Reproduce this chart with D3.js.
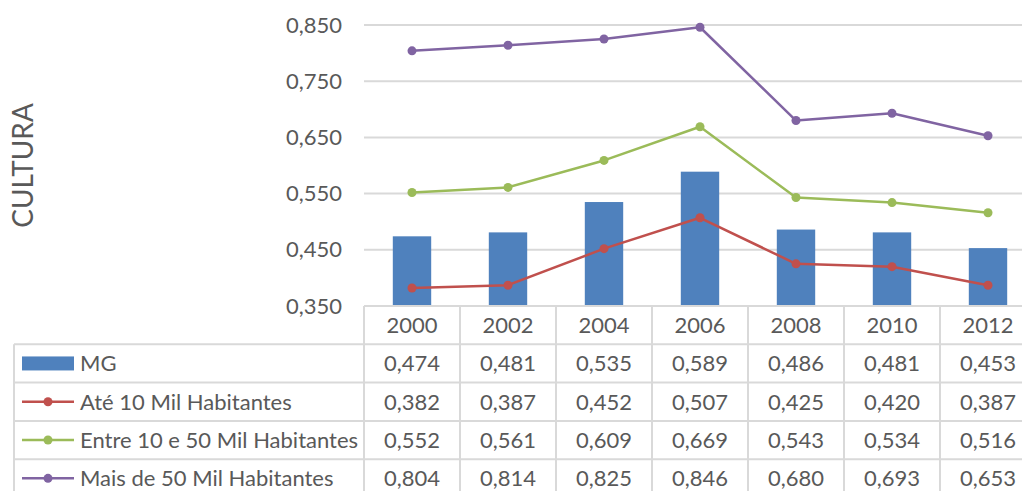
<!DOCTYPE html>
<html>
<head>
<meta charset="utf-8">
<script src="https://cdn.jsdelivr.net/npm/d3@7"></script>
<style>
  html, body { margin: 0; padding: 0; background: #fff; }
  svg { display: block; font-family: Lato, "Open Sans", sans-serif; }
</style>
</head>
<body>
<svg id="chart" width="1022" height="491"></svg>
<script>
// Índice de cultura por porte de município
const years = ["2000", "2002", "2004", "2006", "2008", "2010", "2012"];
const mg = [0.474, 0.481, 0.535, 0.589, 0.486, 0.481, 0.453];
const ate10 = [0.382, 0.387, 0.452, 0.507, 0.425, 0.420, 0.387];
const entre10e50 = [0.552, 0.561, 0.609, 0.669, 0.543, 0.534, 0.516];
const mais50 = [0.804, 0.814, 0.825, 0.846, 0.680, 0.693, 0.653];
const yTicks = [0.35, 0.45, 0.55, 0.65, 0.75, 0.85];
const axisTitle = "CULTURA";

const series = [
  { name: "MG", values: mg, color: "#4F81BD", type: "bar" },
  { name: "Até 10 Mil Habitantes", values: ate10, color: "#C0504D", type: "line" },
  { name: "Entre 10 e 50 Mil Habitantes", values: entre10e50, color: "#9BBB59", type: "line" },
  { name: "Mais de 50 Mil Habitantes", values: mais50, color: "#8064A2", type: "line" }
];

const textColor = "#595959";
const gridColor = "#D9D9D9";
const fmt = v => d3.format(".3f")(v).replace(".", ",");

const svg = d3.select("#chart");
const W = 1022;

const plotLeft = 364, plotTop = 25, plotBottom = 306;
const colW = 96;
const x = d3.scaleBand().domain(years).range([plotLeft, plotLeft + colW * years.length]).paddingInner(0.6).paddingOuter(0.3);
const xc = d => x(d) + x.bandwidth() / 2;
const y = d3.scaleLinear().domain([0.35, 0.85]).range([plotBottom, plotTop]);

// Gridlines and value axis
const yAxis = d3.axisLeft(y).tickValues(yTicks).tickSize(0).tickPadding(22).tickFormat(fmt);
const gy = svg.append("g").attr("transform", `translate(${plotLeft},0)`).call(yAxis);
gy.select(".domain").remove();
gy.selectAll("text").attr("fill", textColor).attr("font-size", 22).attr("font-family", "Lato, sans-serif");

svg.append("g").selectAll("line").data(yTicks.slice(1)).join("line")
  .attr("x1", plotLeft).attr("x2", W)
  .attr("y1", d => y(d)).attr("y2", d => y(d))
  .attr("stroke", gridColor).attr("stroke-width", 2);

// Axis title
svg.append("text")
  .attr("transform", `translate(33,${(105 + 226) / 2}) rotate(-90)`)
  .attr("text-anchor", "middle")
  .attr("fill", textColor).attr("font-size", 28)
  .text(axisTitle);

// Bars
const barS = series[0];
svg.append("g").selectAll("rect").data(years).join("rect")
  .attr("x", d => x(d))
  .attr("width", x.bandwidth())
  .attr("y", (d, i) => y(barS.values[i]))
  .attr("height", (d, i) => plotBottom - y(barS.values[i]))
  .attr("fill", barS.color);

// Lines with markers
series.filter(s => s.type === "line").forEach(s => {
  const line = d3.line().x((d, i) => xc(years[i])).y(d => y(d));
  svg.append("path").datum(s.values)
    .attr("d", line).attr("fill", "none")
    .attr("stroke", s.color).attr("stroke-width", 2.5).attr("stroke-linejoin", "round");
  svg.append("g").selectAll("circle").data(s.values).join("circle")
    .attr("cx", (d, i) => xc(years[i])).attr("cy", d => y(d)).attr("r", 4.5)
    .attr("fill", s.color);
});

// Data table
const rowH = 38.3;
const tableTop = plotBottom;
const legendLeft = 14;
const rowTop = i => tableTop + rowH * (i + 1);
const tg = svg.append("g");

// horizontal rules
tg.append("line").attr("x1", plotLeft).attr("x2", W).attr("y1", tableTop).attr("y2", tableTop)
  .attr("stroke", gridColor).attr("stroke-width", 2);
series.forEach((s, i) => {
  tg.append("line").attr("x1", legendLeft).attr("x2", W).attr("y1", rowTop(i)).attr("y2", rowTop(i))
    .attr("stroke", gridColor).attr("stroke-width", 2);
});
// vertical rules
tg.append("line").attr("x1", legendLeft).attr("x2", legendLeft).attr("y1", rowTop(0)).attr("y2", 491)
  .attr("stroke", gridColor).attr("stroke-width", 2);
d3.range(years.length).forEach(i => {
  const xx = plotLeft + colW * i;
  tg.append("line").attr("x1", xx).attr("x2", xx).attr("y1", tableTop).attr("y2", 491)
    .attr("stroke", gridColor).attr("stroke-width", 2);
});

// header (category labels)
tg.selectAll("text.year").data(years).join("text").attr("class", "year")
  .attr("x", d => xc(d)).attr("y", tableTop + rowH / 2)
  .attr("dy", "0.36em").attr("text-anchor", "middle")
  .attr("fill", textColor).attr("font-size", 22).text(d => d);

// rows
series.forEach((s, i) => {
  const cy = rowTop(i) + rowH / 2;
  if (s.type === "bar") {
    tg.append("rect").attr("x", 22).attr("y", cy - 7).attr("width", 52).attr("height", 14).attr("fill", s.color);
  } else {
    tg.append("line").attr("x1", 22).attr("x2", 74).attr("y1", cy).attr("y2", cy)
      .attr("stroke", s.color).attr("stroke-width", 2.5);
    tg.append("circle").attr("cx", 48).attr("cy", cy).attr("r", 4.5).attr("fill", s.color);
  }
  tg.append("text").attr("x", 80).attr("y", cy).attr("dy", "0.36em")
    .attr("fill", textColor).attr("font-size", 22).text(s.name);
  tg.selectAll(null).data(s.values).join("text")
    .attr("x", (d, j) => xc(years[j])).attr("y", cy).attr("dy", "0.36em")
    .attr("text-anchor", "middle").attr("fill", textColor).attr("font-size", 22)
    .text(d => fmt(d));
});
</script>
</body>
</html>
